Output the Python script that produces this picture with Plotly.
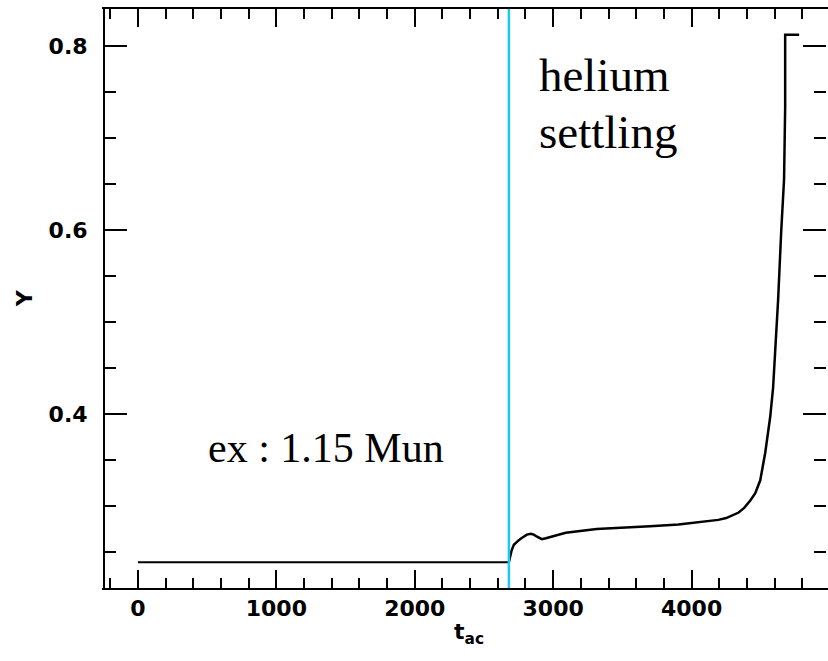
import plotly.graph_objects as go

# --- data ---
t_before = [0, 2680]
y_before = [0.239, 0.239]

t_after = [2680, 2690, 2700, 2716, 2735, 2752, 2770, 2788, 2810, 2839, 2860, 2880, 2900,
           2918, 2947, 3091, 3314, 3473, 3700, 3905, 4100, 4193, 4250, 4300, 4340, 4380,
           4424, 4460, 4496, 4532, 4568, 4589, 4611, 4625, 4647, 4668, 4676, 4676, 4777]
y_after = [0.239, 0.247, 0.252, 0.258, 0.261, 0.263, 0.265, 0.267, 0.269, 0.270, 0.269,
           0.267, 0.265, 0.264, 0.265, 0.271, 0.275, 0.276, 0.278, 0.280, 0.283, 0.285,
           0.287, 0.290, 0.293, 0.298, 0.306, 0.314, 0.328, 0.358, 0.397, 0.429, 0.480,
           0.524, 0.597, 0.655, 0.734, 0.812, 0.812]

settling_start = 2680
x_range = [-245, 4971]
y_range = [0.211, 0.840]
x_ticks = [0, 1000, 2000, 3000, 4000]
y_ticks = [0.4, 0.6, 0.8]

fig = go.Figure()
fig.add_trace(go.Scatter(x=t_before, y=y_before, mode="lines",
                         line=dict(color="black", width=2), showlegend=False))
fig.add_trace(go.Scatter(x=t_after, y=y_after, mode="lines",
                         line=dict(color="black", width=2.5), showlegend=False))
fig.add_vline(x=settling_start, line=dict(color="#1EC8F0", width=2.5))

tickfont = dict(family="DejaVu Sans", size=22, color="black", weight="bold")

fig.update_xaxes(range=x_range, tickvals=x_ticks, ticktext=[str(v) for v in x_ticks],
                 ticks="inside", ticklen=18, tickwidth=2, tickcolor="black",
                 showline=True, linecolor="black", linewidth=2, mirror="ticks",
                 showgrid=False, zeroline=False, tickfont=tickfont,
                 minor=dict(dtick=200, tick0=0, ticks="inside", ticklen=10,
                            tickwidth=2, tickcolor="black", showgrid=False))
fig.update_yaxes(range=y_range, tickvals=y_ticks, ticktext=["%.1f" % v for v in y_ticks],
                 ticks="inside", ticklen=23, tickwidth=2, tickcolor="black",
                 showline=True, linecolor="rgba(0,0,0,0)", linewidth=2, mirror="ticks",
                 showgrid=False, zeroline=False, tickfont=tickfont, ticklabelstandoff=10,
                 minor=dict(dtick=0.05, tick0=0, ticks="inside", ticklen=12,
                            tickwidth=2, tickcolor="black", showgrid=False))

# left frame line (the right frame line lies just outside the picture)
fig.add_shape(type="line", xref="paper", yref="paper", x0=0, x1=0, y0=0, y1=1,
              line=dict(color="black", width=2))

serif = "Liberation Serif"
fig.add_annotation(x=2882, y=0.7685, xref="x", yref="y", text="helium",
                   xanchor="left", yanchor="middle", showarrow=False,
                   font=dict(family=serif, size=47, color="black"))
fig.add_annotation(x=2882, y=0.7065, xref="x", yref="y", text="settling",
                   xanchor="left", yanchor="middle", showarrow=False,
                   font=dict(family=serif, size=47, color="black"))
fig.add_annotation(x=490, y=0.363, xref="x", yref="y", text="ex : 1.15 Mun",
                   xanchor="left", yanchor="middle", showarrow=False,
                   font=dict(family=serif, size=42, color="black"))
fig.add_annotation(x=-0.109, y=0.501, xref="paper", yref="paper", text="Y",
                   textangle=-90, xanchor="center", yanchor="middle", showarrow=False,
                   font=dict(family="DejaVu Sans", size=22, color="black", weight="bold"))
fig.add_annotation(x=0.5055, y=-0.078, xref="paper", yref="paper", text="t<sub>ac</sub>",
                   xanchor="center", yanchor="middle", showarrow=False,
                   font=dict(family="DejaVu Sans", size=22, color="black", weight="bold"))

fig.update_layout(width=828, height=661, margin=dict(l=104, r=0, t=9, b=73),
                  paper_bgcolor="white", plot_bgcolor="white", showlegend=False)

fig.write_html("out.html")
